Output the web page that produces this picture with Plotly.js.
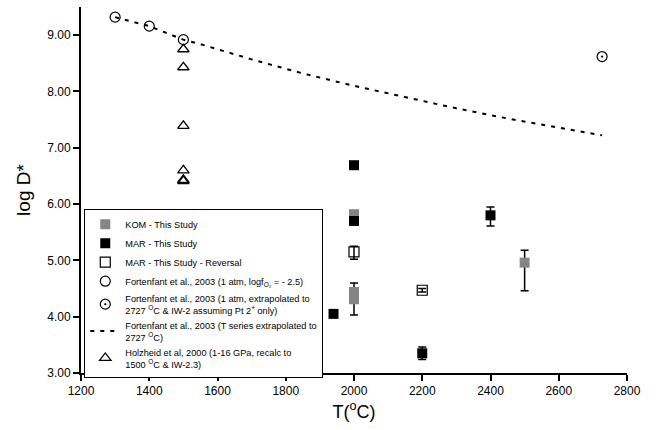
<!DOCTYPE html>
<html>
<head>
<meta charset="utf-8">
<script src="https://cdn.plot.ly/plotly-3.0.1.min.js"></script>
<style>html,body{margin:0;padding:0;background:#fff;}#chart{width:666px;height:430px;}</style>
</head>
<body>
<div id="chart"></div>
<script>
// KOM - This Study
const komT = [2000, 2000, 2000, 2500];
const komV = [5.82, 4.44, 4.31, 4.96];
const komErrPlus = [0, 0.16, 0, 0.22];
const komErrMinus = [0, 0, 0.28, 0.50];

// MAR - This Study
const marT = [2000, 2000, 1940, 2200, 2400];
const marV = [6.69, 5.70, 4.05, 3.35, 5.80];
const marErrPlus = [0, 0, 0, 0.11, 0.15];
const marErrMinus = [0, 0, 0, 0.11, 0.19];

// MAR - This Study - Reversal
const revT = [2000, 2200];
const revV = [5.15, 4.47];
const revErrPlus = [0.10, 0.03];
const revErrMinus = [0.13, 0.03];

// Fortenfant et al., 2003 (1 atm)
const fort1T = [1300, 1400, 1500];
const fort1V = [9.32, 9.16, 8.92];

// Fortenfant et al., 2003 (extrapolated to 2727 C)
const fort2T = [2727];
const fort2V = [8.62];

// Fortenfant et al., 2003 (T series extrapolated)
const lineT = [1300, 1400, 1500, 1550, 1700, 1850, 2000, 2150, 2300, 2450, 2600, 2727];
const lineV = [9.32, 9.16, 8.92, 8.84, 8.57, 8.32, 8.10, 7.90, 7.70, 7.52, 7.36, 7.22];

// Holzheid et al, 2000
const holzT = [1500, 1500, 1500, 1500, 1500, 1500];
const holzV = [8.75, 8.43, 7.39, 6.60, 6.43, 6.41];

const names = [
  'KOM - This Study',
  'MAR - This Study',
  'MAR - This Study - Reversal',
  'Fortenfant et al., 2003 (1 atm, logf<sub>O₂</sub> = - 2.5)',
  'Fortenfant et al., 2003 (1 atm, extrapolated to<br>2727 <sup>O</sup>C & IW-2 assuming Pt 2<sup>+</sup> only)',
  'Fortenfant et al., 2003 (T series extrapolated to<br>2727 <sup>O</sup>C)',
  'Holzheid et al, 2000 (1-16 GPa, recalc to<br>1500 <sup>O</sup>C & IW-2.3)'
];

const errStyle = {color: 'black', thickness: 1.5, width: 4};

const traces = [
  {
    x: lineT, y: lineV, mode: 'lines', name: names[5], legendrank: 6,
    line: {color: 'black', width: 2, dash: '4px,6px'}
  },
  {
    x: komT, y: komV, mode: 'markers', name: names[0], legendrank: 1,
    marker: {symbol: 'square', size: 10, color: '#858585'},
    error_y: Object.assign({type: 'data', symmetric: false, array: komErrPlus, arrayminus: komErrMinus}, errStyle)
  },
  {
    x: marT, y: marV, mode: 'markers', name: names[1], legendrank: 2,
    marker: {symbol: 'square', size: 10, color: 'black'},
    error_y: Object.assign({type: 'data', symmetric: false, array: marErrPlus, arrayminus: marErrMinus}, errStyle)
  },
  {
    x: revT, y: revV, mode: 'markers', name: names[2], legendrank: 3,
    marker: {symbol: 'square-open', size: 10, color: 'black', line: {width: 1.2, color: 'black'}},
    error_y: Object.assign({type: 'data', symmetric: false, array: revErrPlus, arrayminus: revErrMinus}, errStyle)
  },
  {
    x: fort1T, y: fort1V, mode: 'markers', name: names[3], legendrank: 4,
    marker: {symbol: 'circle-open', size: 10, color: 'black', line: {width: 1.2, color: 'black'}}
  },
  {
    x: fort2T, y: fort2V, mode: 'markers', name: names[4], legendrank: 5,
    marker: {symbol: 'circle-open-dot', size: 10, color: 'black', line: {width: 1.2, color: 'black'}}
  },
  {
    x: holzT, y: holzV, mode: 'markers', name: names[6], legendrank: 7,
    marker: {symbol: 'triangle-up-open', size: 10, color: 'black', line: {width: 1.3, color: 'black'}}
  }
];

const layout = {
  width: 666, height: 430,
  margin: {l: 81, r: 39, t: 7, b: 57},
  paper_bgcolor: 'white', plot_bgcolor: 'white',
  font: {family: 'Liberation Sans, Arial, sans-serif', color: 'black'},
  showlegend: true,
  legend: {
    x: 0.006, y: 0.449, xanchor: 'left', yanchor: 'top',
    bgcolor: 'white', bordercolor: 'black', borderwidth: 1,
    font: {size: 9.2, color: 'black', family: 'Liberation Sans, Arial, sans-serif'},
    itemwidth: 30, tracegroupgap: 0
  },
  xaxis: {
    range: [1200, 2800], tick0: 1200, dtick: 200,
    showline: true, linecolor: 'black', linewidth: 2,
    ticks: 'outside', ticklen: 6, tickwidth: 2, tickcolor: 'black',
    showgrid: false, zeroline: false,
    tickfont: {size: 12},
    title: {text: 'T(<sup>o</sup>C)', font: {size: 18}, standoff: 8}
  },
  yaxis: {
    range: [3, 9.5], tick0: 3, dtick: 1, tickformat: '.2f',
    showline: true, linecolor: 'black', linewidth: 2,
    ticks: 'outside', ticklen: 6, tickwidth: 2, tickcolor: 'black',
    showgrid: false, zeroline: false,
    tickfont: {size: 12},
    title: {text: 'log D*', font: {size: 19}, standoff: 12}
  }
};

Plotly.newPlot('chart', traces, layout, {displayModeBar: false, staticPlot: true});
</script>
</body>
</html>
